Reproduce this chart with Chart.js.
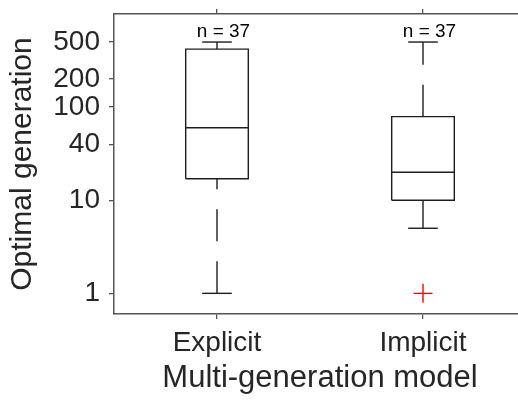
<!DOCTYPE html>
<html>
<head>
<meta charset="utf-8">
<script src="https://cdn.jsdelivr.net/npm/chart.js@4/dist/chart.umd.min.js"></script>
<style>
  html, body { margin: 0; padding: 0; background: #fff; overflow: hidden; }
  #wrap { width: 518px; height: 403px; overflow: hidden; }
  canvas { display: block; }
</style>
</head>
<body>
<div id="wrap"><canvas id="c" width="540" height="403"></canvas></div>
<script>
// ---- data ----
const categories = ['Explicit', 'Implicit'];
const lowerWhisker = [1, 5];
const q1 = [17, 10];
const median = [60, 20];
const q3 = [420, 79];
const upperWhisker = [500, 500];
const outliers = [[], [1]];
const counts = [37, 37];
const yTicks = [1, 10, 40, 100, 200, 500];

// ---- styles ----
const TEXT = '#262626';
const AXIS = '#555555';
const LINE = '#1e1e1e';
const FONT = "'Liberation Sans', Arial, Helvetica, sans-serif";
const boxHalf = 0.152;
const capHalf = 0.072;

Chart.defaults.font.family = FONT;
Chart.defaults.color = TEXT;

const datasets = [];
const lineDs = (data, extra) => Object.assign({
  data, showLine: true, pointRadius: 0, pointHoverRadius: 0, fill: false,
  borderColor: LINE, borderWidth: 1.4, tension: 0
}, extra || {});

categories.forEach((cat, i) => {
  const x = i + 1;
  datasets.push(lineDs([
    {x: x - boxHalf, y: q1[i]}, {x: x + boxHalf, y: q1[i]},
    {x: x + boxHalf, y: q3[i]}, {x: x - boxHalf, y: q3[i]},
    {x: x - boxHalf, y: q1[i]}
  ]));
  datasets.push(lineDs([{x: x - boxHalf, y: median[i]}, {x: x + boxHalf, y: median[i]}]));
  datasets.push(lineDs([{x, y: lowerWhisker[i]}, {x, y: q1[i]}], {borderDash: [32, 20]}));
  datasets.push(lineDs([{x, y: q3[i]}, {x, y: upperWhisker[i]}], {borderDash: [32, 20]}));
  datasets.push(lineDs([{x: x - capHalf, y: lowerWhisker[i]}, {x: x + capHalf, y: lowerWhisker[i]}]));
  datasets.push(lineDs([{x: x - capHalf, y: upperWhisker[i]}, {x: x + capHalf, y: upperWhisker[i]}]));
  if (outliers[i].length) {
    datasets.push({
      data: outliers[i].map(v => ({x, y: v})), showLine: false,
      pointStyle: 'cross', pointRadius: 9.5, pointHoverRadius: 9.5,
      pointBorderColor: '#ff0000', pointBorderWidth: 1.4, borderColor: '#ff0000'
    });
  }
});

const countLabels = {
  id: 'countLabels',
  afterDatasetsDraw(chart) {
    const {ctx, scales: {x}, chartArea} = chart;
    ctx.save();
    ctx.font = '19px ' + FONT;
    ctx.fillStyle = '#000';
    ctx.textAlign = 'center';
    ctx.textBaseline = 'alphabetic';
    counts.forEach((n, i) => {
      ctx.fillText('n = ' + n, x.getPixelForValue(i + 1) + 6.5, chartArea.top + 23.3);
    });
    ctx.restore();
  }
};

const whiteBg = {
  id: 'whiteBg',
  beforeDraw(chart) {
    const {ctx} = chart;
    ctx.save();
    ctx.fillStyle = '#fff';
    ctx.fillRect(0, 0, chart.width, chart.height);
    ctx.restore();
  }
};

const noPad = s => { s.paddingTop = 0; s.paddingBottom = 0; s.paddingLeft = 0; s.paddingRight = 0; };

new Chart(document.getElementById('c'), {
  type: 'scatter',
  data: { datasets },
  options: {
    responsive: false,
    animation: false,
    events: [],
    layout: { padding: { left: 0, right: 14, top: 0, bottom: 0 } },
    plugins: { legend: { display: false }, tooltip: { enabled: false } },
    scales: {
      x: {
        type: 'linear', position: 'bottom', min: 0.5, max: 2.5,
        afterBuildTicks: s => { s.ticks = categories.map((c, i) => ({value: i + 1})); },
        afterFit: s => { s.height = 89; noPad(s); },
        ticks: {
          callback: v => categories[v - 1] || '',
          font: { size: 28 }, color: TEXT, padding: 7, maxRotation: 0, autoSkip: false
        },
        grid: { drawOnChartArea: false, drawTicks: true, tickLength: 5, color: AXIS, lineWidth: 1.3 },
        border: { display: true, color: AXIS, width: 1.5 },
        title: { display: true, text: 'Multi-generation model', font: { size: 31 }, color: TEXT, padding: { top: 0, bottom: 6 } }
      },
      x2: {
        type: 'linear', position: 'top', min: 0.5, max: 2.5,
        afterBuildTicks: s => { s.ticks = categories.map((c, i) => ({value: i + 1})); },
        afterFit: s => { s.height = 14; noPad(s); },
        ticks: { display: false },
        grid: { drawOnChartArea: false, drawTicks: true, tickLength: 5, color: AXIS, lineWidth: 1.3 },
        border: { display: true, color: AXIS, width: 1.5 }
      },
      y: {
        type: 'logarithmic', position: 'left', min: 0.64, max: 1000,
        afterBuildTicks: s => { s.ticks = yTicks.map(v => ({value: v})); },
        afterFit: s => { s.width = 114; noPad(s); },
        ticks: {
          callback: v => String(v), font: { size: 28 }, color: TEXT, padding: 9, autoSkip: false
        },
        grid: { drawOnChartArea: false, drawTicks: true, tickLength: 5, color: AXIS, lineWidth: 1.3 },
        border: { display: true, color: AXIS, width: 1.5 },
        title: { display: true, text: 'Optimal generation', font: { size: 30 }, color: TEXT, padding: { top: 5, bottom: 0 } }
      }
    }
  },
  plugins: [whiteBg, countLabels]
});
</script>
</body>
</html>
